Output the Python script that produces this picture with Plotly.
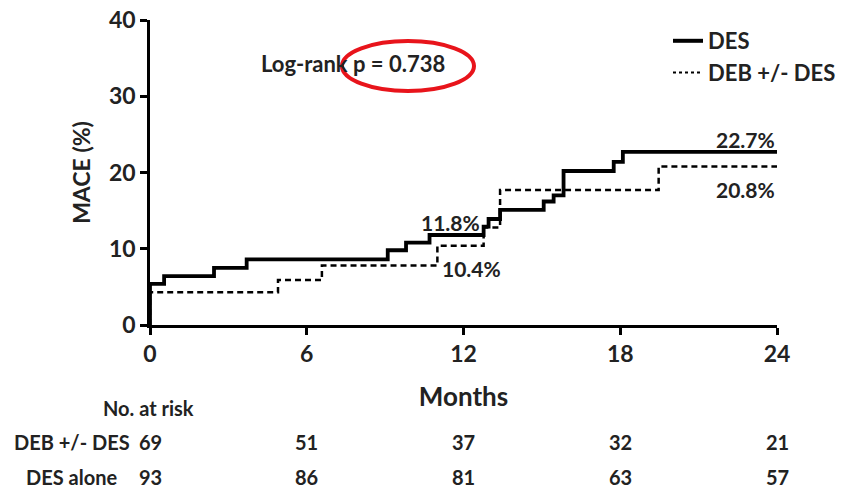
import plotly.graph_objects as go

# Kaplan-Meier style cumulative MACE (%) curves
des_months = [0, 0, 0.54, 2.45, 3.7, 9.1, 9.8, 10.7, 12.77, 12.96, 13.4, 15.07, 15.45, 15.83, 17.75, 18.1, 24]
des_mace = [0, 5.4, 6.4, 7.5, 8.6, 9.8, 10.8, 11.8, 12.9, 13.9, 15.1, 16.2, 17.0, 20.2, 21.4, 22.7, 22.7]

deb_months = [0, 0, 4.9, 6.58, 11.0, 12.77, 13.4, 19.47, 24]
deb_mace = [0, 4.3, 5.9, 7.8, 10.4, 12.8, 17.7, 20.8, 20.8]

x_ticks = [0, 6, 12, 18, 24]
y_ticks = [0, 10, 20, 30, 40]

risk_months = [0, 6, 12, 18, 24]
risk_deb = [69, 51, 37, 32, 21]
risk_des = [93, 86, 81, 63, 57]

FONT = "Lato"
TXT = "#222"

# plot area in page pixels
PX0, PX1, PY0, PY1 = 150, 777, 20, 325
W, H = 859, 492


def px(xp):
    return (xp - PX0) / (PX1 - PX0)


def py(yp):
    return (PY1 - yp) / (PY1 - PY0)


def f(size):
    return dict(size=size, family=FONT, color=TXT, weight="bold")


fig = go.Figure()

fig.add_trace(go.Scatter(x=des_months, y=des_mace, mode="lines", line_shape="hv",
                         line=dict(color="black", width=3.8), showlegend=False))
fig.add_trace(go.Scatter(x=deb_months, y=deb_mace, mode="lines", line_shape="hv",
                         line=dict(color="black", width=2.5, dash="6px,4px"), showlegend=False))
# legend entries
fig.add_trace(go.Scatter(x=[None], y=[None], mode="lines", name="DES",
                         line=dict(color="black", width=4)))
fig.add_trace(go.Scatter(x=[None], y=[None], mode="lines", name="DEB +/- DES",
                         line=dict(color="black", width=2, dash="dot")))

ann = []


def add(x, y, text, size, xanchor, xref="paper", yref="paper"):
    ann.append(dict(x=x, y=y, xref=xref, yref=yref, text=text, showarrow=False,
                    xanchor=xanchor, yanchor="middle", font=f(size)))


add(24, py(139) * 40, "22.7%", 21, "right", "x", "y")
add(24, py(189) * 40, "20.8%", 21, "right", "x", "y")
add(12.72, py(222) * 40, "11.8%", 21, "right", "x", "y")
add(11.1, py(268) * 40, "10.4%", 21, "left", "x", "y")
add(px(259), py(64), "Log-rank p = 0.738", 22, "left")

# risk table
add(px(148), py(408), "No. at risk", 20, "center")
add(px(12), py(442), "DEB +/- DES", 20, "left")
add(px(24), py(477), "DES alone", 20, "left")
for i, m in enumerate(risk_months):
    xpos = (m / 24) if i > 0 else px(150)
    add(xpos, py(442), str(risk_deb[i]), 20, "center")
    add(xpos, py(477), str(risk_des[i]), 20, "center")

fig.update_layout(
    width=W, height=H,
    margin=dict(l=PX0, r=W - PX1, t=PY0, b=H - PY1),
    plot_bgcolor="white", paper_bgcolor="white",
    font=dict(family=FONT, color=TXT),
    annotations=ann,
    shapes=[dict(type="circle", xref="paper", yref="paper",
                 x0=px(342), x1=px(474), y0=py(91), y1=py(41),
                 line=dict(color="#e8141b", width=4))],
    legend=dict(x=px(668), y=1.0, xanchor="left", yanchor="top",
                font=f(22), bgcolor="rgba(0,0,0,0)", tracegroupgap=0, itemwidth=30),
    xaxis=dict(range=[0, 24], tickvals=x_ticks, ticktext=[str(v) for v in x_ticks],
               showgrid=False, zeroline=False, showline=True, linecolor="black", linewidth=2.5,
               ticks="outside", ticklen=7, tickwidth=2.5, tickcolor="black",
               tickfont=f(23), automargin=False, ticklabeloverflow="allow",
               title=dict(text="Months", standoff=22, font=f(26))),
    yaxis=dict(range=[0, 40], tickvals=y_ticks, ticktext=[str(v) for v in y_ticks],
               showgrid=False, zeroline=False, showline=True, linecolor="black", linewidth=2.5,
               ticks="outside", ticklen=7, tickwidth=2.5, tickcolor="black",
               tickfont=f(23), automargin=False, ticklabeloverflow="allow",
               title=dict(text="MACE (%)", standoff=12, font=f(23))),
)

fig.write_html("out.html", config={"displayModeBar": False},
               post_script="document.body.style.margin='0px';")
